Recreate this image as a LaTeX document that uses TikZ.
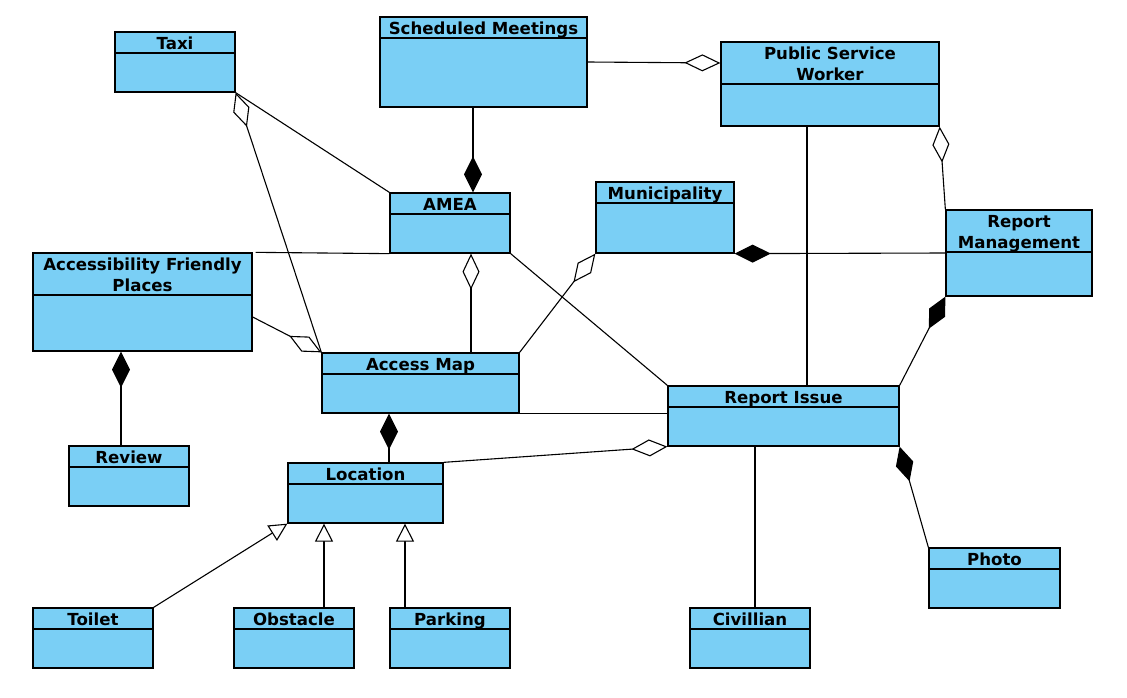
\documentclass[tikz,border=0pt]{standalone}
\usepackage{fontspec}
\setmainfont{DejaVu Sans}
\usepackage{tikz}
\usetikzlibrary{arrows.meta}
\definecolor{umlblue}{RGB}{122,207,245}

\begin{document}
\begin{tikzpicture}[x=1pt,y=-1pt,
    cls/.style={draw=black,fill=umlblue,line width=1.3pt,inner sep=0pt},
    hdr/.style={draw=black,fill=umlblue,line width=1.3pt,inner sep=0pt,anchor=north,
      font=\fontsize{16.6pt}{21pt}\selectfont\bfseries,align=center,
      minimum height=21pt,text height=14.5pt,text depth=1pt},
    hdrtwo/.style={hdr,minimum height=42pt,text height=35.5pt},
    aggr/.style={-{Diamond[fill=white,length=36pt,width=17pt]}},
    comp/.style={-{Diamond[length=36pt,width=18pt]}},
    gen/.style={-{Triangle[fill=white,length=18pt,width=18pt]}},
    every path/.style={line width=1.1pt,line join=miter}]
      \useasboundingbox (0,0) rectangle (1127,698);
      % classes
      \node[cls,minimum width=120pt,minimum height=60pt] (taxi) at (175,62) {};
      \node[hdr,minimum width=120pt] (taxi-h) at (taxi.north) {Taxi};
      \node[cls,minimum width=207pt,minimum height=90pt] (sched) at (483.5,62) {};
      \node[hdr,minimum width=207pt] (sched-h) at (sched.north) {Scheduled Meetings};
      \node[cls,minimum width=218pt,minimum height=84pt] (psw) at (830,84) {};
      \node[hdrtwo,minimum width=218pt] (psw-h) at (psw.north) {Public Service\\Worker};
      \node[cls,minimum width=120pt,minimum height=60pt] (amea) at (450,223) {};
      \node[hdr,minimum width=120pt] (amea-h) at (amea.north) {AMEA};
      \node[cls,minimum width=138pt,minimum height=71pt] (muni) at (665,217.5) {};
      \node[hdr,minimum width=138pt] (muni-h) at (muni.north) {Municipality};
      \node[cls,minimum width=146pt,minimum height=86pt] (repm) at (1019,253) {};
      \node[hdrtwo,minimum width=146pt] (repm-h) at (repm.north) {Report\\Management};
      \node[cls,minimum width=219pt,minimum height=98pt] (afp) at (142.5,302) {};
      \node[hdrtwo,minimum width=219pt] (afp-h) at (afp.north) {Accessibility Friendly\\Places};
      \node[cls,minimum width=197pt,minimum height=60pt] (map) at (420.5,383) {};
      \node[hdr,minimum width=197pt] (map-h) at (map.north) {Access Map};
      \node[cls,minimum width=120pt,minimum height=60pt] (review) at (129,476) {};
      \node[hdr,minimum width=120pt] (review-h) at (review.north) {Review};
      \node[cls,minimum width=231pt,minimum height=60pt] (issue) at (783.5,416) {};
      \node[hdr,minimum width=231pt] (issue-h) at (issue.north) {Report Issue};
      \node[cls,minimum width=155pt,minimum height=60pt] (loc) at (365.5,493) {};
      \node[hdr,minimum width=155pt] (loc-h) at (loc.north) {Location};
      \node[cls,minimum width=120pt,minimum height=60pt] (toilet) at (93,638) {};
      \node[hdr,minimum width=120pt] (toilet-h) at (toilet.north) {Toilet};
      \node[cls,minimum width=120pt,minimum height=60pt] (obst) at (294,638) {};
      \node[hdr,minimum width=120pt] (obst-h) at (obst.north) {Obstacle};
      \node[cls,minimum width=120pt,minimum height=60pt] (park) at (450,638) {};
      \node[hdr,minimum width=120pt] (park-h) at (park.north) {Parking};
      \node[cls,minimum width=120pt,minimum height=60pt] (civ) at (750,638) {};
      \node[hdr,minimum width=120pt] (civ-h) at (civ.north) {Civillian};
      \node[cls,minimum width=131pt,minimum height=60pt] (photo) at (994.5,578) {};
      \node[hdr,minimum width=131pt] (photo-h) at (photo.north) {Photo};
      % associations
      \draw[aggr] (sched.east) -- (psw-h.west);
      \draw[comp] (473,0 |- sched.south) -- (473,0 |- amea.north);
      \draw (taxi.south east) -- (amea.north west);
      \draw[aggr] (map.north west) -- (taxi.south east);
      \draw ([xshift=3pt]afp.north east) -- (amea.south west);
      \draw[aggr] ([yshift=-15pt]afp.east) -- (map.north west);
      \draw[aggr] (471,0 |- map.north) -- (471,0 |- amea.south);
      \draw (amea.south east) -- (issue.north west);
      \draw[aggr] (map.north east) -- (muni.south west);
      \draw[comp] (repm.west) -- (muni.south east);
      \draw (807,0 |- psw.south) -- (807,0 |- issue.north);
      \draw[aggr] (repm.north west) -- (psw.south east);
      \draw[comp] (issue.north east) -- (repm.south west);
      \draw (map.south east) -- (map.south east -| issue.west);
      \draw[aggr] (loc.north east) -- (issue.south west);
      \draw[comp] (389,0 |- loc.north) -- (389,0 |- map.south);
      \draw[comp] (121,0 |- review.north) -- (121,0 |- afp.south);
      \draw (755,0 |- issue.south) -- (755,0 |- civ.north);
      \draw[comp] (photo.north west) -- (issue.south east);
      % generalisations
      \draw[gen] (toilet.north east) -- (loc.south west);
      \draw[gen] (324,0 |- obst.north) -- (324,0 |- loc.south);
      \draw[gen] (405,0 |- park.north) -- (405,0 |- loc.south);
\end{tikzpicture}
\end{document}
